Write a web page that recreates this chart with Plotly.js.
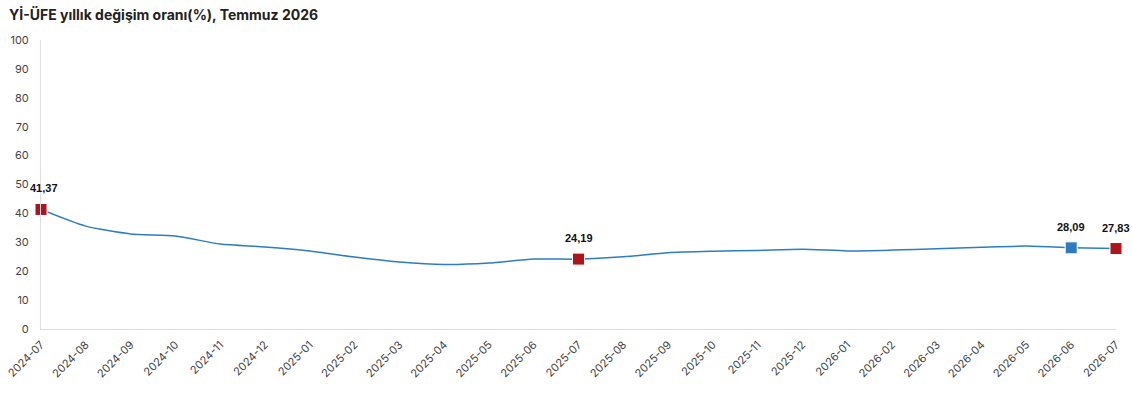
<!DOCTYPE html>
<html><head><meta charset="utf-8">
<script src="https://cdn.plot.ly/plotly-3.0.1.min.js"></script>
<style>body{margin:0;background:#fff}#c{width:1132px;height:400px}</style>
</head><body><div id="c"></div>
<script>
const months = ["2024-07","2024-08","2024-09","2024-10","2024-11","2024-12","2025-01","2025-02","2025-03","2025-04","2025-05","2025-06","2025-07","2025-08","2025-09","2025-10","2025-11","2025-12","2026-01","2026-02","2026-03","2026-04","2026-05","2026-06","2026-07"];
const values = [41.37,35.6,32.9,32.2,29.4,28.4,27.0,24.9,23.2,22.3,22.8,24.2,24.19,25.0,26.4,26.9,27.2,27.6,27.0,27.3,27.8,28.3,28.7,28.09,27.83];
const redIdx = [0,12,24];
const blueIdx = [23];
const labelIdx = [0,12,23,24];
const fmt = v => v.toFixed(2).replace('.', ',');

const line = {x: months, y: values, type:'scatter', mode:'lines',
  line:{color:'#2e7ebf', width:1.5, shape:'spline', smoothing:0.6}, hoverinfo:'skip'};
function marks(idx, color){
  return {x: idx.map(i=>months[i]), y: idx.map(i=>values[i]), type:'scatter', mode:'markers',
    marker:{symbol:'square', size:12, color:color, line:{color:'#fff', width:1}},
    cliponaxis:false};
}
const annotations = labelIdx.map(i=>({x: months[i], y: values[i], text:'<b>'+fmt(values[i])+'</b>',
  showarrow:false, yshift:21, xshift: i===0 ? 3 : 0, xanchor:'center', yanchor:'middle',
  font:{family:'Liberation Sans, Arial, sans-serif', size:11, color:'#111'}}));
const layout = {
  width:1132, height:400, showlegend:false,
  paper_bgcolor:'#fff', plot_bgcolor:'#fff',
  margin:{l:41, r:16, t:40, b:71},
  annotations: annotations,
  title:{text:'<b>Yİ-ÜFE yıllık değişim oranı(%), Temmuz 2026</b>', x:0.008, xanchor:'left', y:0.975, yanchor:'top',
    font:{family:'Inter, Roboto, sans-serif', size:14, color:'#222'}},
  xaxis:{type:'category', range:[0,24], showgrid:false, zeroline:false, showline:true, linecolor:'#ddd', linewidth:1,
    tickangle:-45, tickfont:{family:'Inter, Roboto, sans-serif', size:11, color:'#444'}, ticks:'outside', ticklen:4, tickcolor:'rgba(0,0,0,0)'},
  yaxis:{range:[0,100], dtick:10, showgrid:false, zeroline:false, showline:true, linecolor:'#dde', linewidth:1,
    tickfont:{family:'Inter, Roboto, sans-serif', size:11, color:'#444'}, ticks:'outside', ticklen:9, tickcolor:'rgba(0,0,0,0)'}
};
Plotly.newPlot('c', [line, marks(redIdx,'#ad141c'), marks(blueIdx,'#2e7bbf')], layout, {staticPlot:true});
</script></body></html>
